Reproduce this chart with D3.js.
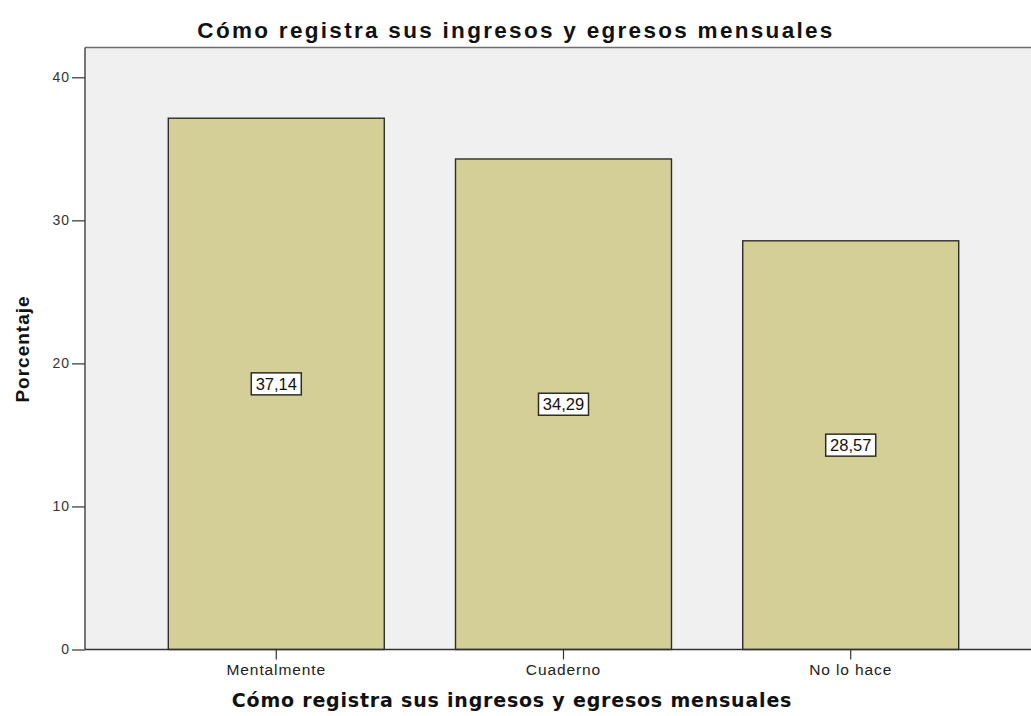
<!DOCTYPE html>
<html>
<head>
<meta charset="utf-8">
<script src="https://cdn.jsdelivr.net/npm/d3@7"></script>
<style>
  html, body { margin: 0; padding: 0; background: #ffffff; }
  svg { display: block; }
</style>
</head>
<body>
<svg id="chart" width="1031" height="716"></svg>
<script>
// Forma de registro de ingresos y egresos mensuales (porcentaje)
const categories = ["Mentalmente", "Cuaderno", "No lo hace"];
const values = [37.14, 34.29, 28.57];
const valueLabels = ["37,14", "34,29", "28,57"];
const yTicks = [0, 10, 20, 30, 40];

const chartTitle = "Cómo registra sus ingresos y egresos mensuales";
const xTitle = "Cómo registra sus ingresos y egresos mensuales";
const yTitle = "Porcentaje";

const svg = d3.select("#chart");
const W = 1031, H = 716;
const plot = { left: 85, top: 47.5, right: 1042, bottom: 649.5 };
const sans = "Arial, 'Liberation Sans', sans-serif";

const x = d3.scaleBand()
  .domain(categories)
  .range([plot.left, plot.right])
  .paddingInner(0.248)
  .paddingOuter(0.29);

const y = d3.scaleLinear()
  .domain([0, 40])
  .range([plot.bottom, 77.3]);

// plot background
svg.append("rect")
  .attr("x", plot.left).attr("y", plot.top)
  .attr("width", W - plot.left).attr("height", plot.bottom - plot.top)
  .attr("fill", "#f0f0f0");

// bars
svg.append("g").selectAll("rect")
  .data(categories)
  .join("rect")
  .attr("x", d => x(d))
  .attr("y", (d, i) => y(values[i]))
  .attr("width", x.bandwidth())
  .attr("height", (d, i) => y(0) - y(values[i]))
  .attr("fill", "#d3cf96")
  .attr("stroke", "#2e2e26")
  .attr("stroke-width", 1.4);

// frame: top border
svg.append("line")
  .attr("x1", plot.left).attr("x2", W)
  .attr("y1", plot.top).attr("y2", plot.top)
  .attr("stroke", "#6e6e6e").attr("stroke-width", 1.6);

// y axis
const yAxis = d3.axisLeft(y).tickValues(yTicks).tickSize(13).tickPadding(2).tickFormat(d3.format("d"));
const gy = svg.append("g")
  .attr("transform", `translate(${plot.left},0)`)
  .call(yAxis);
gy.select(".domain").attr("d", `M0,${plot.top}V${plot.bottom}`).attr("stroke", "#555").attr("stroke-width", 1.6);
gy.selectAll(".tick line").attr("stroke", "#333").attr("stroke-width", 1.2);
gy.selectAll(".tick text")
  .attr("font-family", sans)
  .attr("font-size", 14).attr("letter-spacing", 1).attr("fill", "#333");

// x axis
const xAxis = d3.axisBottom(x).tickSize(10).tickPadding(4);
const gx = svg.append("g")
  .attr("transform", `translate(0,${plot.bottom})`)
  .call(xAxis);
gx.select(".domain").attr("d", `M${plot.left},0H${W}`).attr("stroke", "#333").attr("stroke-width", 1.4);
gx.selectAll(".tick line").attr("stroke", "#333").attr("stroke-width", 1.2);
gx.selectAll(".tick text")
  .attr("font-family", sans)
  .attr("font-size", 15.5).attr("letter-spacing", 0.9).attr("fill", "#222");

// value labels in boxes at mid-bar
const labels = svg.append("g").selectAll("g")
  .data(categories)
  .join("g")
  .attr("transform", (d, i) => `translate(${x(d) + x.bandwidth() / 2},${(y(values[i]) + y(0)) / 2})`);
labels.append("rect")
  .attr("x", -25).attr("y", -11)
  .attr("width", 50).attr("height", 22)
  .attr("fill", "#ffffff").attr("stroke", "#2e2e26").attr("stroke-width", 1.5);
labels.append("text")
  .attr("text-anchor", "middle").attr("dy", "0.36em")
  .attr("font-family", sans)
  .attr("font-size", 16.5).attr("fill", "#111")
  .text((d, i) => valueLabels[i]);

// titles
svg.append("text")
  .attr("x", 516).attr("y", 38)
  .attr("text-anchor", "middle")
  .attr("font-family", sans)
  .attr("font-weight", "bold").attr("font-size", 22.5).attr("letter-spacing", 2.3).attr("fill", "#111")
  .text(chartTitle);

svg.append("text")
  .attr("x", 512).attr("y", 707)
  .attr("text-anchor", "middle")
  .attr("font-family", "'DejaVu Sans', Verdana, sans-serif")
  .attr("font-weight", "bold").attr("font-size", 19).attr("letter-spacing", 0.8).attr("fill", "#111")
  .text(xTitle);

svg.append("text")
  .attr("transform", "translate(29,349) rotate(-90)")
  .attr("text-anchor", "middle")
  .attr("font-family", sans)
  .attr("font-weight", "bold").attr("font-size", 19).attr("letter-spacing", 1).attr("fill", "#111")
  .text(yTitle);
</script>
</body>
</html>
